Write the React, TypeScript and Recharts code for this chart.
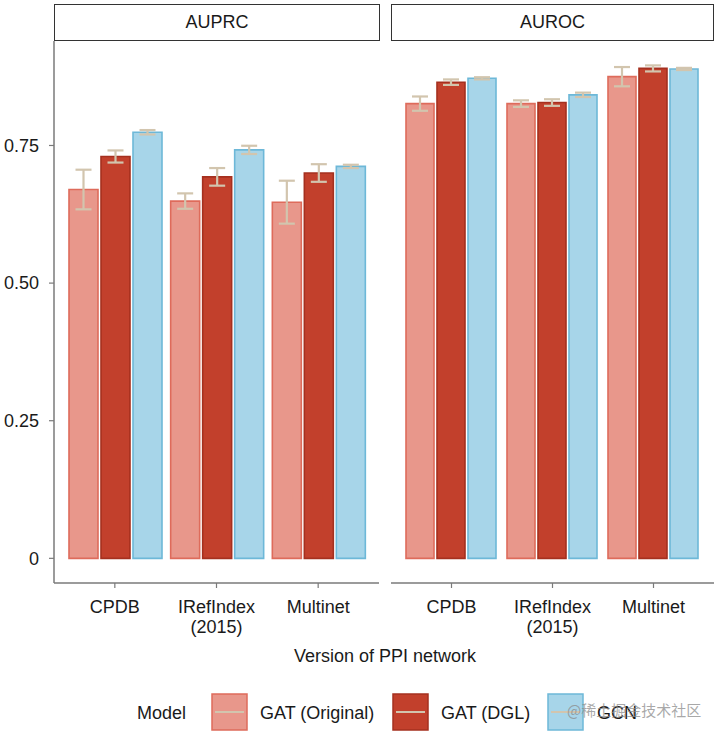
import React from "react";
import { BarChart, Bar, XAxis, YAxis, ErrorBar } from "recharts";

const categories = ["CPDB", "IRefIndex\n(2015)", "Multinet"];

const auprcOrig = [0.67, 0.649, 0.647];
const auprcOrigErr = [0.036, 0.014, 0.039];
const auprcDgl = [0.73, 0.693, 0.7];
const auprcDglErr = [0.011, 0.016, 0.016];
const auprcGcn = [0.774, 0.742, 0.712];
const auprcGcnErr = [0.004, 0.0075, 0.003];

const aurocOrig = [0.826, 0.826, 0.875];
const aurocOrigErr = [0.013, 0.006, 0.0175];
const aurocDgl = [0.865, 0.828, 0.89];
const aurocDglErr = [0.005, 0.006, 0.0055];
const aurocGcn = [0.872, 0.842, 0.889];
const aurocGcnErr = [0.002, 0.004, 0.002];

const yTicks = [0, 0.25, 0.5, 0.75];
const panelTitles = ["AUPRC", "AUROC"];
const seriesNames = ["GAT (Original)", "GAT (DGL)", "GCN"];
const legendTitle = "Model";
const xTitle = "Version of PPI network";
const watermark = "@稀土掘金技术社区";

const FILLS = ["#E8978B", "#C2402C", "#A7D5E9"];
const STROKES = ["#DE6B5B", "#A5301F", "#6DB8D8"];
const ERR = "#D2C5AE";
const FONT = "'Liberation Sans', Arial, Helvetica, sans-serif";
const TEXT = "#1a1a1a";
const AXIS = "#7a7a7a";
const DOMAIN: [number, number] = [-0.0448, 0.9398];

function build(o: number[], oe: number[], d: number[], de: number[], g: number[], ge: number[]) {
  return categories.map((name, i) => ({
    name,
    orig: o[i],
    origErr: oe[i],
    dgl: d[i],
    dglErr: de[i],
    gcn: g[i],
    gcnErr: ge[i],
  }));
}

const auprcData = build(auprcOrig, auprcOrigErr, auprcDgl, auprcDglErr, auprcGcn, auprcGcnErr);
const aurocData = build(aurocOrig, aurocOrigErr, aurocDgl, aurocDglErr, aurocGcn, aurocGcnErr);

const XTick = (props: any) => {
  const { x, y, payload } = props;
  const lines = String(payload.value).split("\n");
  return (
    <text x={x} y={y + 22.5} textAnchor="middle" fill={TEXT} fontSize={18} fontFamily={FONT}>
      {lines.map((l, i) => (
        <tspan key={i} x={x} dy={i === 0 ? 0 : 20}>
          {l}
        </tspan>
      ))}
    </text>
  );
};

const keys = ["orig", "dgl", "gcn"];

function Panel({ data, showY, width }: { data: any[]; showY: boolean; width: number }) {
  return (
    <BarChart
      width={width}
      height={645}
      data={data}
      margin={{ top: 41, right: showY ? 6 : 0, bottom: 0, left: 0 }}
      barCategoryGap={5}
      barGap={3}
    >
      <XAxis
        dataKey="name"
        height={62}
        padding={{ left: 10, right: 10 }}
        axisLine={{ stroke: AXIS, strokeWidth: 1.5 }}
        tickLine={{ stroke: AXIS, strokeWidth: 1.2 }}
        tickSize={5}
        tick={<XTick />}
        interval={0}
      />
      <YAxis
        hide={!showY}
        width={54}
        domain={DOMAIN}
        ticks={yTicks}
        allowDataOverflow
        axisLine={{ stroke: AXIS, strokeWidth: 1.5 }}
        tickLine={{ stroke: AXIS, strokeWidth: 1.2 }}
        tickSize={5}
        tickMargin={10}
        tick={{ fill: TEXT, fontSize: 18, fontFamily: FONT }}
        tickFormatter={(v: number) => (v === 0 ? "0" : v.toFixed(2))}
      />
      {keys.map((k, i) => (
        <Bar
          key={k}
          dataKey={k}
          fill={FILLS[i]}
          stroke={STROKES[i]}
          strokeWidth={1.6}
          isAnimationActive={false}
        >
          <ErrorBar dataKey={k + "Err"} width={8} stroke={ERR} strokeWidth={2.2} direction="y" />
        </Bar>
      ))}
    </BarChart>
  );
}

const stripStyle = (left: number, width: number): React.CSSProperties => ({
  position: "absolute",
  left,
  top: 4,
  width,
  height: 37,
  boxSizing: "border-box",
  border: "1.3px solid #333",
  background: "#fff",
  display: "flex",
  alignItems: "center",
  justifyContent: "center",
  fontFamily: FONT,
  fontSize: 18,
  color: TEXT,
});

const legendKeys = [212, 393, 548];
const legendTexts = [260, 441, 597];

export default function App() {
  return (
    <div style={{ position: "absolute", left: 0, top: 0, width: 720, height: 735, background: "#fff" }}>
      <div style={{ position: "absolute", left: 0, top: 0 }}>
        <Panel data={auprcData} showY={true} width={385} />
      </div>
      <div style={{ position: "absolute", left: 391, top: 0 }}>
        <Panel data={aurocData} showY={false} width={323} />
      </div>
      <div style={stripStyle(54, 326)}>{panelTitles[0]}</div>
      <div style={stripStyle(391, 323)}>{panelTitles[1]}</div>
      <svg width={720} height={735} style={{ position: "absolute", left: 0, top: 0, pointerEvents: "none" }}>
        <text x={385} y={662} textAnchor="middle" fontSize={18} fontFamily={FONT} fill={TEXT}>
          {xTitle}
        </text>
        <text x={137} y={718.5} fontSize={18} fontFamily={FONT} fill={TEXT}>
          {legendTitle}
        </text>
        {seriesNames.map((n, i) => (
          <g key={n}>
            <rect
              x={legendKeys[i]}
              y={694}
              width={35}
              height={36}
              fill={FILLS[i]}
              stroke={STROKES[i]}
              strokeWidth={1.5}
            />
            <line
              x1={legendKeys[i] + 3}
              x2={legendKeys[i] + 32}
              y1={712}
              y2={712}
              stroke={ERR}
              strokeWidth={2}
            />
            <text x={legendTexts[i]} y={718.5} fontSize={18} fontFamily={FONT} fill={TEXT}>
              {n}
            </text>
          </g>
        ))}
        <text
          x={567}
          y={716}
          fontSize={15}
          fontFamily="'Noto Sans CJK SC', sans-serif"
          fill="rgba(140,140,140,0.75)"
        >
          {watermark}
        </text>
      </svg>
    </div>
  );
}
